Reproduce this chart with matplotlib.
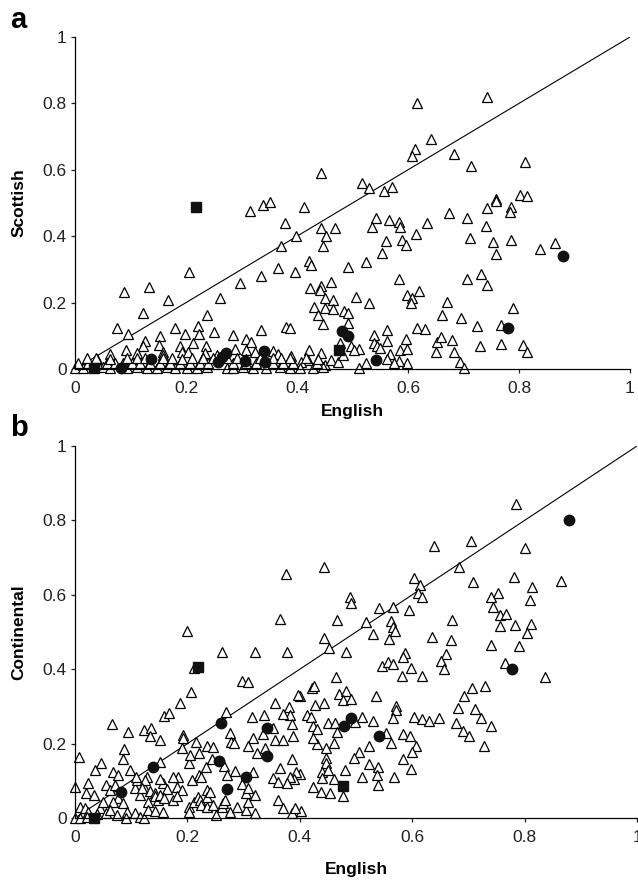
import numpy as np
import matplotlib
matplotlib.use("Agg")
import matplotlib.pyplot as plt

plt.rcParams['font.family'] = ['Liberation Sans', 'DejaVu Sans']

# ---- panel a: English vs Scottish ----
tri_a = [
    (0.617, 0.800), (0.742, 0.820),
    (0.641, 0.693), (0.613, 0.662), (0.607, 0.642), (0.683, 0.647), (0.713, 0.612), (0.811, 0.625),
    (0.443, 0.589), (0.518, 0.559), (0.530, 0.544), (0.557, 0.536), (0.572, 0.549),
    (0.759, 0.511), (0.801, 0.524), (0.814, 0.521),
    (0.316, 0.477), (0.338, 0.494), (0.351, 0.502), (0.413, 0.489), (0.378, 0.441), (0.398, 0.402), (0.372, 0.370),
    (0.443, 0.426), (0.468, 0.424), (0.452, 0.401), (0.447, 0.371),
    (0.542, 0.454), (0.536, 0.427), (0.566, 0.449), (0.583, 0.444), (0.586, 0.429), (0.635, 0.439), (0.614, 0.408),
    (0.560, 0.387), (0.590, 0.389), (0.596, 0.374), (0.553, 0.350), (0.524, 0.321), (0.491, 0.308),
    (0.422, 0.326), (0.426, 0.313), (0.365, 0.305), (0.396, 0.291), (0.336, 0.281), (0.297, 0.260), (0.206, 0.291),
    (0.673, 0.471), (0.706, 0.454), (0.741, 0.431), (0.742, 0.484), (0.758, 0.506), (0.711, 0.396), (0.754, 0.383),
    (0.758, 0.346), (0.584, 0.271), (0.707, 0.271), (0.731, 0.286), (0.742, 0.253), (0.461, 0.261), (0.444, 0.250),
    (0.423, 0.243), (0.441, 0.238),
    (0.785, 0.489), (0.783, 0.474), (0.785, 0.389), (0.838, 0.361), (0.865, 0.380),
    (0.790, 0.185), (0.450, 0.213), (0.465, 0.208), (0.431, 0.186), (0.450, 0.185), (0.465, 0.180), (0.438, 0.163),
    (0.446, 0.136), (0.485, 0.175), (0.491, 0.168), (0.491, 0.140), (0.506, 0.216), (0.530, 0.198), (0.598, 0.223),
    (0.608, 0.213), (0.619, 0.236), (0.605, 0.198), (0.670, 0.203), (0.661, 0.163), (0.695, 0.153), (0.724, 0.130),
    (0.768, 0.132), (0.617, 0.122), (0.631, 0.120), (0.563, 0.117), (0.539, 0.102), (0.563, 0.084), (0.539, 0.077),
    (0.596, 0.090), (0.652, 0.082), (0.659, 0.097), (0.680, 0.087), (0.729, 0.070), (0.767, 0.075), (0.807, 0.072),
    (0.814, 0.052), (0.650, 0.052), (0.683, 0.052), (0.694, 0.022), (0.701, 0.002),
    (0.586, 0.057), (0.599, 0.060), (0.599, 0.019), (0.583, 0.025), (0.568, 0.044), (0.563, 0.030), (0.575, 0.019),
    (0.544, 0.070), (0.550, 0.062), (0.524, 0.019), (0.511, 0.002), (0.478, 0.077), (0.497, 0.070), (0.512, 0.059),
    (0.502, 0.057), (0.422, 0.057), (0.443, 0.049), (0.420, 0.027), (0.434, 0.019), (0.450, 0.012), (0.462, 0.027),
    (0.473, 0.022), (0.408, 0.022), (0.482, 0.042),
    (0.088, 0.233), (0.133, 0.246), (0.168, 0.208), (0.123, 0.168), (0.261, 0.213), (0.238, 0.163), (0.076, 0.122),
    (0.096, 0.104), (0.181, 0.122), (0.198, 0.105), (0.222, 0.130), (0.223, 0.105), (0.251, 0.110), (0.284, 0.102),
    (0.335, 0.117), (0.381, 0.127), (0.387, 0.122), (0.153, 0.099), (0.127, 0.085), (0.123, 0.069), (0.152, 0.072),
    (0.159, 0.052), (0.092, 0.057), (0.189, 0.070), (0.192, 0.052), (0.212, 0.077), (0.236, 0.070), (0.308, 0.090),
    (0.317, 0.080), (0.309, 0.057), (0.324, 0.052), (0.357, 0.055), (0.235, 0.047), (0.255, 0.042), (0.159, 0.042),
    (0.063, 0.045), (0.111, 0.048), (0.204, 0.050), (0.288, 0.060), (0.366, 0.045), (0.390, 0.040), (0.040, 0.030),
    # bottom band
    (0.000, 0.004), (0.015, 0.003), (0.051, 0.005), (0.063, 0.003), (0.093, 0.004), (0.111, 0.005), (0.129, 0.003),
    (0.147, 0.004), (0.165, 0.005), (0.180, 0.003), (0.201, 0.004), (0.219, 0.003), (0.237, 0.005), (0.273, 0.004),
    (0.285, 0.003), (0.303, 0.005), (0.321, 0.004), (0.345, 0.003), (0.369, 0.005), (0.387, 0.004), (0.405, 0.003),
    (0.429, 0.004), (0.447, 0.005),
    (0.006, 0.018), (0.024, 0.019), (0.039, 0.017), (0.057, 0.019), (0.072, 0.018), (0.087, 0.019), (0.102, 0.017),
    (0.117, 0.018), (0.135, 0.019), (0.153, 0.017), (0.171, 0.018), (0.189, 0.019), (0.207, 0.018), (0.225, 0.017),
    (0.240, 0.019), (0.285, 0.018), (0.309, 0.019), (0.327, 0.017), (0.357, 0.018), (0.375, 0.019), (0.393, 0.018),
    (0.436, 0.017),
    (0.021, 0.032), (0.038, 0.033), (0.063, 0.031), (0.093, 0.033), (0.111, 0.032), (0.126, 0.034), (0.159, 0.032),
    (0.174, 0.033), (0.192, 0.031), (0.210, 0.033), (0.231, 0.032), (0.249, 0.034), (0.273, 0.032), (0.291, 0.033),
    (0.309, 0.031), (0.333, 0.033), (0.357, 0.032), (0.372, 0.034), (0.387, 0.032), (0.417, 0.033), (0.438, 0.031),
]
tri_a_x = [p[0] for p in tri_a]
tri_a_y = [p[1] for p in tri_a]

circ_a_x = [0.082, 0.137, 0.258, 0.264, 0.272, 0.306, 0.341, 0.342, 0.481, 0.492, 0.542, 0.780, 0.880]
circ_a_y = [0.002, 0.029, 0.022, 0.037, 0.049, 0.025, 0.055, 0.022, 0.114, 0.099, 0.027, 0.122, 0.340]
sq_a_x = [0.034, 0.218, 0.476]
sq_a_y = [0.002, 0.487, 0.057]

# ---- panel b: English vs Continental ----
tri_b = [
    (0.375, 0.656), (0.365, 0.535), (0.200, 0.503),
    (0.785, 0.844), (0.639, 0.731), (0.705, 0.745), (0.800, 0.727), (0.443, 0.674), (0.683, 0.674), (0.604, 0.646),
    (0.613, 0.626), (0.611, 0.604), (0.617, 0.593), (0.709, 0.634), (0.782, 0.649), (0.813, 0.620), (0.810, 0.586),
    (0.864, 0.638), (0.753, 0.606), (0.741, 0.595), (0.743, 0.568), (0.756, 0.546), (0.767, 0.548), (0.756, 0.516),
    (0.783, 0.519), (0.811, 0.521), (0.805, 0.496), (0.489, 0.593), (0.491, 0.577), (0.541, 0.565), (0.565, 0.568),
    (0.595, 0.559), (0.467, 0.532), (0.518, 0.526), (0.562, 0.530), (0.566, 0.514), (0.569, 0.504), (0.670, 0.532),
    (0.530, 0.495), (0.443, 0.483), (0.558, 0.481), (0.635, 0.486), (0.669, 0.478),
    (0.452, 0.456), (0.483, 0.447), (0.740, 0.465), (0.790, 0.462), (0.587, 0.443), (0.584, 0.432), (0.660, 0.440),
    (0.651, 0.423), (0.657, 0.400), (0.547, 0.409), (0.557, 0.419), (0.566, 0.415), (0.598, 0.404), (0.581, 0.382),
    (0.617, 0.382), (0.464, 0.380), (0.766, 0.417), (0.836, 0.380), (0.730, 0.355), (0.707, 0.349), (0.693, 0.329),
    (0.682, 0.295), (0.712, 0.292), (0.722, 0.268), (0.740, 0.246), (0.728, 0.194), (0.678, 0.256), (0.691, 0.235),
    (0.701, 0.221), (0.648, 0.270), (0.604, 0.272), (0.617, 0.265), (0.630, 0.261), (0.571, 0.301), (0.572, 0.290),
    (0.565, 0.268), (0.536, 0.329), (0.421, 0.349), (0.426, 0.355), (0.470, 0.333), (0.482, 0.342), (0.476, 0.317),
    (0.491, 0.320), (0.443, 0.310), (0.400, 0.328), (0.412, 0.277), (0.420, 0.272), (0.451, 0.256), (0.463, 0.255),
    (0.466, 0.232), (0.423, 0.246), (0.431, 0.238), (0.498, 0.259), (0.511, 0.272), (0.530, 0.262), (0.553, 0.228),
    (0.563, 0.202), (0.583, 0.226), (0.596, 0.220), (0.607, 0.194), (0.599, 0.177), (0.584, 0.158), (0.598, 0.131),
    (0.568, 0.109), (0.523, 0.194), (0.506, 0.178), (0.496, 0.162), (0.523, 0.145), (0.539, 0.138), (0.537, 0.116),
    (0.540, 0.089), (0.510, 0.111), (0.460, 0.201), (0.431, 0.199), (0.423, 0.214), (0.447, 0.187), (0.447, 0.160),
    (0.446, 0.147), (0.440, 0.124), (0.451, 0.129), (0.460, 0.104), (0.439, 0.107), (0.480, 0.129), (0.423, 0.084),
    (0.437, 0.069), (0.454, 0.068), (0.477, 0.060), (0.403, 0.020), (0.400, 0.118), (0.427, 0.304),
    (0.261, 0.445), (0.320, 0.447), (0.377, 0.447), (0.212, 0.402), (0.298, 0.368), (0.308, 0.366), (0.206, 0.340),
    (0.187, 0.310), (0.158, 0.274), (0.167, 0.283), (0.065, 0.253), (0.269, 0.286), (0.315, 0.271), (0.336, 0.277),
    (0.356, 0.310), (0.380, 0.298), (0.383, 0.277), (0.370, 0.280), (0.397, 0.331), (0.275, 0.228), (0.278, 0.203),
    (0.283, 0.202), (0.352, 0.241), (0.335, 0.225), (0.317, 0.214), (0.356, 0.210), (0.370, 0.210), (0.388, 0.220),
    (0.387, 0.253), (0.308, 0.194), (0.323, 0.176), (0.338, 0.187), (0.386, 0.158), (0.365, 0.134), (0.394, 0.124),
    (0.390, 0.104), (0.383, 0.109), (0.352, 0.107), (0.362, 0.098), (0.377, 0.093), (0.362, 0.048), (0.370, 0.026),
    (0.386, 0.013), (0.391, 0.026),
    (0.007, 0.165), (0.000, 0.084), (0.047, 0.149), (0.036, 0.129), (0.024, 0.093), (0.020, 0.068), (0.033, 0.062),
    (0.009, 0.030), (0.018, 0.026), (0.024, 0.017), (0.000, 0.000), (0.009, 0.000), (0.021, 0.004), (0.044, 0.026),
    (0.050, 0.044), (0.055, 0.014), (0.056, 0.089), (0.062, 0.075), (0.071, 0.089), (0.068, 0.124), (0.077, 0.116),
    (0.095, 0.232), (0.088, 0.185), (0.086, 0.158), (0.098, 0.129), (0.077, 0.053), (0.068, 0.044), (0.085, 0.040),
    (0.092, 0.017), (0.091, 0.000), (0.107, 0.013), (0.116, 0.003), (0.122, 0.000), (0.107, 0.080), (0.110, 0.102),
    (0.116, 0.062), (0.122, 0.084), (0.122, 0.237), (0.135, 0.241), (0.133, 0.220), (0.128, 0.111), (0.133, 0.073),
    (0.142, 0.066), (0.130, 0.044), (0.148, 0.048), (0.130, 0.022), (0.142, 0.020), (0.152, 0.151), (0.152, 0.210),
    (0.157, 0.093), (0.163, 0.077), (0.157, 0.017), (0.175, 0.048), (0.184, 0.111), (0.181, 0.084), (0.190, 0.075),
    (0.181, 0.059), (0.192, 0.223), (0.193, 0.214), (0.190, 0.187), (0.202, 0.147), (0.205, 0.169), (0.208, 0.102),
    (0.202, 0.030), (0.202, 0.017), (0.211, 0.044), (0.216, 0.205), (0.221, 0.174), (0.221, 0.116), (0.225, 0.111),
    (0.219, 0.057), (0.222, 0.048), (0.225, 0.035), (0.234, 0.075), (0.234, 0.057), (0.240, 0.069), (0.235, 0.194),
    (0.245, 0.192), (0.243, 0.159), (0.233, 0.138), (0.234, 0.030), (0.246, 0.035), (0.251, 0.008), (0.261, 0.030),
    (0.264, 0.041), (0.266, 0.141), (0.267, 0.048), (0.270, 0.116), (0.276, 0.017), (0.288, 0.030), (0.304, 0.022),
    (0.308, 0.044), (0.320, 0.013), (0.285, 0.127), (0.297, 0.091), (0.304, 0.068), (0.308, 0.081), (0.320, 0.062),
    (0.317, 0.124), (0.109, 0.109), (0.125, 0.102), (0.151, 0.104), (0.175, 0.109), (0.119, 0.080), (0.142, 0.058),
    (0.151, 0.063), (0.158, 0.054), (0.040, 0.010), (0.062, 0.022), (0.074, 0.008),
]
tri_b_x = [p[0] for p in tri_b]
tri_b_y = [p[1] for p in tri_b]

circ_b_x = [0.081, 0.138, 0.260, 0.256, 0.270, 0.305, 0.341, 0.341, 0.479, 0.491, 0.541, 0.778, 0.879]
circ_b_y = [0.071, 0.138, 0.256, 0.153, 0.077, 0.111, 0.243, 0.167, 0.248, 0.270, 0.221, 0.400, 0.801]
sq_b_x = [0.034, 0.218, 0.476]
sq_b_y = [0.000, 0.407, 0.087]

ticks = [0, 0.2, 0.4, 0.6, 0.8, 1]
tick_labels = ['0', '0.2', '0.4', '0.6', '0.8', '1']


def draw_panel(ax, tx, ty, cx, cy, sx, sy, ylabel, xlab_y, ylab_x):
    ax.plot([0, 1], [0, 1], color='black', lw=0.8, zorder=1)
    ax.plot(tx, ty, linestyle='none', marker='^', markersize=6.8, markerfacecolor='white',
            markeredgecolor='black', markeredgewidth=0.9, zorder=2, clip_on=False)
    ax.plot(cx, cy, linestyle='none', marker='o', markersize=7.5, color='#111111', zorder=3, clip_on=False)
    ax.plot(sx, sy, linestyle='none', marker='s', markersize=6.8, color='#111111', zorder=3, clip_on=False)
    ax.set_xlim(0, 1)
    ax.set_ylim(0, 1)
    ax.spines['top'].set_visible(False)
    ax.spines['right'].set_visible(False)
    for s in ('left', 'bottom'):
        ax.spines[s].set_linewidth(0.9)
    ax.set_xticks(ticks)
    ax.set_xticklabels(tick_labels)
    ax.set_yticks(ticks)
    ax.set_yticklabels(tick_labels)
    ax.tick_params(axis='both', direction='out', length=3, width=0.9, labelsize=12.5, colors='#222222')
    ax.tick_params(axis='x', pad=5.5)
    ax.tick_params(axis='y', pad=3)
    ax.set_xlabel('English', fontsize=12.5, fontweight='bold')
    ax.xaxis.set_label_coords(0.5, xlab_y)
    ax.set_ylabel(ylabel, fontsize=12.5, fontweight='bold')
    ax.yaxis.set_label_coords(ylab_x, 0.5)


fig = plt.figure(figsize=(6.38, 8.81), dpi=100)
ax_a = fig.add_axes([75 / 638, 1 - 369 / 881, 555 / 638, 332 / 881])
ax_b = fig.add_axes([75 / 638, 1 - 818 / 881, 562 / 638, 372 / 881])

draw_panel(ax_a, tri_a_x, tri_a_y, circ_a_x, circ_a_y, sq_a_x, sq_a_y, 'Scottish', -0.105, -0.088)
draw_panel(ax_b, tri_b_x, tri_b_y, circ_b_x, circ_b_y, sq_b_x, sq_b_y, 'Continental', -0.118, -0.087)

fig.text(10 / 638, 1 - 28 / 881, 'a', fontsize=21, fontweight='bold', ha='left', va='baseline')
fig.text(10 / 638, 1 - 436 / 881, 'b', fontsize=21, fontweight='bold', ha='left', va='baseline')

fig.savefig('out.png', dpi=100)
